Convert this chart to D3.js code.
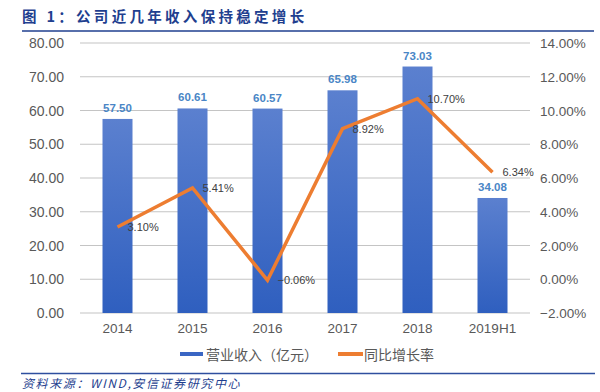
<!DOCTYPE html>
<html><head><meta charset="utf-8">
<script src="https://cdn.jsdelivr.net/npm/d3@7"></script>
<style>body{margin:0;background:#fff}svg{display:block}</style>
</head><body><svg id="c" width="600" height="392"></svg>
<script>
const categories = ["2014","2015","2016","2017","2018","2019H1"];
const revenue = [57.50, 60.61, 60.57, 65.98, 73.03, 34.08];
const growth = [3.10, 5.41, -0.06, 8.92, 10.70, 6.34];
const leftTicks = [0,10,20,30,40,50,60,70,80];
const rightTicks = [-2,0,2,4,6,8,10,12,14];
const titleText = "图 1：公司近几年收入保持稳定增长";
const legendLabels = ["营业收入（亿元）","同比增长率"];
const sourceText = "资料来源：WIND,安信证券研究中心";

const svg = d3.select("#c");
const font = "'Liberation Sans', Arial, 'Noto Sans CJK SC', sans-serif";
const cjk = "'Noto Sans CJK SC', sans-serif";
const L = 80, R = 530, T = 43, B = 313;
const x = d3.scaleBand().domain(categories).range([L, R]).paddingInner(0.6).paddingOuter(0.3);
const xc = d3.scalePoint().domain(categories).range([L, R]).padding(0.5);
const yL = d3.scaleLinear().domain([0, 80]).range([B, T]);
const yR = d3.scaleLinear().domain([-2, 14]).range([B, T]);

// title
svg.append("text").attr("x", 22).attr("y", 22).attr("fill", "#1f3f8f")
  .attr("font-family", cjk).attr("font-weight", "bold").attr("font-size", 14.5)
  .attr("letter-spacing", 3.3).text(titleText);
svg.append("line").attr("x1", 22).attr("x2", 594).attr("y1", 31).attr("y2", 31)
  .attr("stroke", "#1f3f8f").attr("stroke-width", 1.5);

// gridlines
svg.append("g").selectAll("line").data(leftTicks).join("line")
  .attr("x1", L).attr("x2", R).attr("y1", d => yL(d)).attr("y2", d => yL(d))
  .attr("stroke", "#c4c4c4").attr("stroke-width", 1.2);

// left axis labels
svg.append("g").selectAll("text").data(leftTicks).join("text")
  .attr("x", 64).attr("y", d => yL(d) + 5).attr("text-anchor", "end")
  .attr("font-family", font).attr("font-size", 14).attr("fill", "#595959")
  .text(d => d3.format(".2f")(d));
// right axis labels
svg.append("g").selectAll("text").data(rightTicks).join("text")
  .attr("x", 540).attr("y", d => yR(d) + 5).attr("text-anchor", "start")
  .attr("font-family", font).attr("font-size", 13.5).attr("fill", "#595959")
  .text(d => d3.format(".2f")(d) + "%");

// gradient
const defs = svg.append("defs");
const g = defs.append("linearGradient").attr("id", "bg").attr("x1", 0).attr("y1", 0).attr("x2", 0).attr("y2", 1);
g.append("stop").attr("offset", "0%").attr("stop-color", "#5b80cf");
g.append("stop").attr("offset", "100%").attr("stop-color", "#2f5fbf");

// bars
svg.append("g").selectAll("rect").data(revenue).join("rect")
  .attr("x", (d, i) => x(categories[i])).attr("width", x.bandwidth())
  .attr("y", d => yL(d)).attr("height", d => B - yL(d))
  .attr("fill", "url(#bg)");
svg.append("g").selectAll("text").data(revenue).join("text")
  .attr("x", (d, i) => xc(categories[i])).attr("y", d => yL(d) - 7)
  .attr("text-anchor", "middle").attr("font-family", font).attr("font-size", 11.5)
  .attr("font-weight", "bold").attr("fill", "#4a86c6").text(d => d3.format(".2f")(d));

// line
const line = d3.line().x((d, i) => xc(categories[i])).y(d => yR(d));
svg.append("path").datum(growth).attr("d", line).attr("fill", "none")
  .attr("stroke", "#ed7d31").attr("stroke-width", 3.5).attr("stroke-linejoin", "miter");
svg.append("g").selectAll("text").data(growth).join("text")
  .attr("x", (d, i) => xc(categories[i]) + 10).attr("y", d => yR(d) + 4)
  .attr("font-family", font).attr("font-size", 11).attr("fill", "#404040")
  .text(d => d3.format(".2f")(d) + "%");

// x labels
svg.append("g").selectAll("text").data(categories).join("text")
  .attr("x", d => xc(d)).attr("y", 333).attr("text-anchor", "middle")
  .attr("font-family", font).attr("font-size", 13.5).attr("fill", "#595959").text(d => d);

// legend
const lg = svg.append("g");
lg.append("rect").attr("x", 180).attr("y", 352).attr("width", 23).attr("height", 4).attr("fill", "#3a66c4");
lg.append("text").attr("x", 206).attr("y", 360).attr("font-family", cjk).attr("font-size", 14)
  .attr("fill", "#595959").text(legendLabels[0]);
lg.append("rect").attr("x", 338).attr("y", 352).attr("width", 25).attr("height", 4).attr("fill", "#ed7d31");
lg.append("text").attr("x", 364).attr("y", 360).attr("font-family", cjk).attr("font-size", 14)
  .attr("fill", "#595959").text(legendLabels[1]);

// bottom
svg.append("line").attr("x1", 21).attr("x2", 595).attr("y1", 373.5).attr("y2", 373.5)
  .attr("stroke", "#2f4f9f").attr("stroke-width", 1.5);
svg.append("text").attr("x", 22).attr("y", 388).attr("font-family", cjk).attr("font-style", "italic")
  .attr("font-size", 12).attr("letter-spacing", 1.6).attr("fill", "#1f3f8f").text(sourceText);
</script></body></html>
